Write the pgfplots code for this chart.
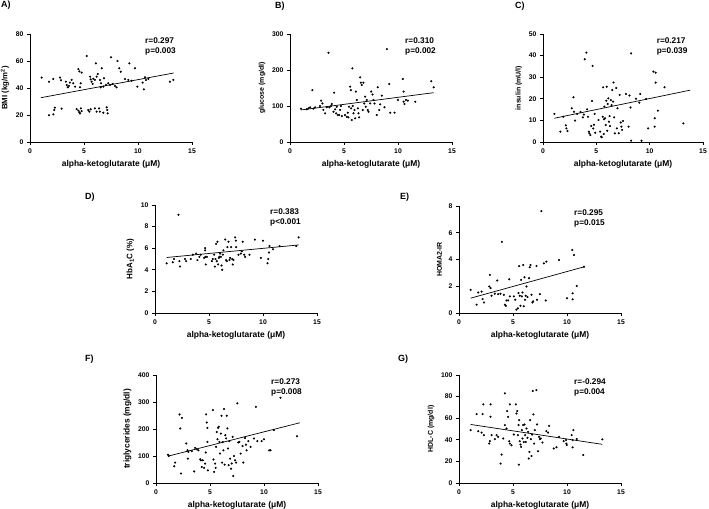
\documentclass[border=0pt]{standalone}
\usepackage{fontspec}
\setmainfont{Liberation Sans}
\usepackage{pgfplots}
\pgfplotsset{compat=1.18}

\pgfplotsset{
  panel/.style={
    scale only axis, width=162bp, height=108bp,
    xmin=0, xmax=15, ymin=0,
    xtick={0,5,10,15},
    axis x line*=bottom, axis y line*=left,
    axis line style={line width=0.9bp, -},
    tick align=outside, major tick length=3bp,
    tick style={line width=0.8bp, black},
    enlargelimits=false, clip=false,
    tick label style={font=\fontsize{6.8}{8}\selectfont\bfseries},
    /pgf/number format/assume math mode=true,
    xlabel={alpha-ketoglutarate (μM)},
    xlabel style={font=\fontsize{8.5}{10}\selectfont\bfseries},
    ylabel style={font=\fontsize{7}{8}\selectfont\bfseries},
    anchor=south west,
  },
  dots/.style={only marks, mark=*, mark size=0.85bp, black},
  fit/.style={no marks, line width=0.7bp, black},
}
\newcommand{\stats}[2]{%
  \node[anchor=west, inner sep=0, font=\fontsize{8.3}{10}\selectfont\bfseries] at (rel axis cs:0.71,0.935) {#1};
  \node[anchor=west, inner sep=0, font=\fontsize{8.3}{10}\selectfont\bfseries] at (rel axis cs:0.71,0.84) {#2};}

\begin{document}
\begin{tikzpicture}
\path[use as bounding box] (0,0) rectangle (709bp,509bp);

% panel letters
\begin{scope}[every node/.style={anchor=north west, inner sep=0, font=\fontsize{9}{10}\selectfont\bfseries}]
\node at (1bp,508bp) {A)};
\node at (275bp,507bp) {B)};
\node at (515bp,507bp) {C)};
\node at (85bp,316bp) {D)};
\node at (400bp,316bp) {E)};
\node at (85bp,154bp) {F)};
\node at (398bp,154bp) {G)};
\end{scope}

% A) BMI
\begin{axis}[panel, at={(30bp,367bp)}, ymax=80, ytick={0,20,40,60,80},
  ylabel={BMI (kg/m\textsuperscript{2})}, ylabel style={font=\fontsize{7.8}{8}\selectfont\bfseries}]
\addplot[dots] coordinates {
(1.08,47.7) (1.76,19.8) (1.76,44.7) (2.16,46.7) (2.16,20.5) (2.25,23.7) (2.3,25.4)
(2.78,47.7) (2.87,45.7) (2.93,24.7) (3.33,44.7) (3.4,42.2) (3.5,40.5) (3.6,41.5)
(3.7,44) (3.86,46) (4.0,43.5) (4.17,41) (4.48,54) (4.57,52.3) (4.69,43.5) (4.63,40.5)
(4.78,51.4) (4.32,24.4) (4.48,23.2) (4.57,22) (4.72,24.9) (4.78,22.9) (4.63,21.2)
(5.25,63.7) (5.4,23.7) (5.49,22.5) (5.62,24.2) (5.56,48.4) (5.62,46.4) (5.71,44.7)
(5.8,43) (5.86,46.9) (6.0,46) (6.1,58.3) (6.17,48.4) (6.27,50.4) (6.0,24.9) (6.17,22.5)
(6.39,24.9) (6.48,46) (6.54,40.5) (6.57,43.5) (6.64,54.6) (6.79,41) (6.85,47.2)
(6.79,21.7) (7.1,25.7) (7.16,23.7) (7.19,21.2) (7.04,42.2) (7.25,43.5) (7.4,42.2)
(7.5,62.7) (7.65,43) (7.87,41.5) (8.02,40.5) (8.1,60) (8.27,54.6) (8.4,52) (8.8,46.7)
(9.1,46) (9.2,58.3) (9.4,45.4) (9.72,54.6) (9.94,41) (10.43,44) (10.55,39) (10.65,47.9)
(10.74,46) (10.96,46.7) (12.96,44.7) (13.27,46) (6.48,22.5)
};
\addplot[fit] coordinates {(1.0,32.8) (13.3,51.1)};
\stats{r=0.297}{p=0.003}
\end{axis}

% B) glucose
\begin{axis}[panel, at={(290bp,367bp)}, ymax=300, ytick={0,100,200,300},
  ylabel={glucose (mg/dl)}]
\addplot[dots] coordinates {
(1.02,92.6) (1.55,90.7) (1.7,93.5) (1.86,96.3) (2.07,144) (2.17,92.6) (2.32,96.3)
(2.78,100) (2.88,114.8) (3.0,107) (3.09,89) (3.25,79.6) (3.4,96.3) (3.56,248)
(3.65,96.3) (3.8,100) (3.87,105.6) (4.02,84) (4.08,137) (4.18,90.7) (4.27,79.6)
(4.33,98) (4.42,75) (4.55,75) (4.64,89) (4.73,100) (4.8,72) (5.1,75) (5.26,70)
(5.35,81.5) (5.41,68.5) (5.47,98) (5.57,153.7) (5.63,144) (5.66,93.5) (5.72,61)
(5.78,204.6) (5.81,100) (5.88,79.6) (5.97,89) (6.03,65.7) (6.1,140) (6.19,116.7)
(6.28,93.5) (6.34,79.6) (6.4,68.5) (6.5,179.6) (6.56,164.8) (6.65,158.3) (6.74,89)
(6.8,164.8) (6.87,107) (6.96,126) (7.02,98) (7.11,116.7) (7.2,89) (7.27,84) (7.42,107)
(7.52,140) (7.64,132) (7.73,116.7) (7.82,107) (8.04,75) (8.13,152) (8.26,89)
(8.35,104.6) (8.5,128.7) (8.75,96.3) (8.97,258) (9.19,161) (9.28,81.5) (9.68,81.5)
(9.99,116.7) (10.45,175) (10.52,140) (10.52,112) (10.6,105.6) (10.73,116.7)
(10.92,114.8) (11.6,112) (13.08,169) (13.3,152)
};
\addplot[fit] coordinates {(1.02,89) (13.3,137)};
\stats{r=0.310}{p=0.002}
\end{axis}

% C) insulin
\begin{axis}[panel, at={(543bp,367bp)}, width=160bp, ymax=50, ytick={0,10,20,30,40,50},
  ylabel={insulin (mU/l)}]
\addplot[dots] coordinates {
(1.07,13) (1.62,4.8) (1.9,11.7) (2.14,7.7) (2.2,6.3) (2.3,5.1) (2.7,15.6) (2.85,20.7)
(2.9,14) (3.0,9.9) (3.2,13) (3.52,13.9) (3.73,11.4) (3.83,12.7) (3.92,38.3) (4.07,41.4)
(4.13,15.1) (4.22,11.7) (4.29,4.8) (4.35,4) (4.44,3.2) (4.53,7.4) (4.59,19) (4.65,35.2)
(4.71,6.3) (4.78,8) (4.84,13) (4.9,4.3) (5.2,10.2) (5.36,4.8) (5.45,2.5) (5.51,2.2)
(5.6,11.7) (5.63,25.3) (5.7,3.7) (5.72,10.5) (5.75,16.4) (5.82,11) (5.88,7.9) (5.94,19.1)
(5.97,25.6) (6.03,5.2) (6.06,17.6) (6.12,20.2) (6.18,9.4) (6.24,12) (6.27,7.4) (6.37,19.4)
(6.43,17.1) (6.49,24.1) (6.58,18.7) (6.61,27.5) (6.67,11.4) (6.73,4) (6.86,25) (6.92,6.3)
(6.98,15.6) (7.1,4) (7.19,21.8) (7.29,9) (7.35,7.1) (7.41,5.6) (7.5,9.7) (7.78,22.2)
(8.02,7.1) (8.11,21.5) (8.2,16) (8.26,41) (8.26,0.6) (8.72,20) (9.03,18.2) (9.12,22.2)
(9.24,0.6) (9.67,20) (9.86,6.3) (10.35,32.6) (10.47,11) (10.47,7.1) (10.56,32.1)
(10.56,27.5) (10.77,14.5) (11.39,25.3) (13.16,8.6)
};
\addplot[fit] coordinates {(1.07,11.0) (13.8,24.0)};
\stats{r=0.217}{p=0.039}
\end{axis}

% D) HbA1C
\begin{axis}[panel, at={(155bp,196bp)}, ymax=10, ytick={0,2,4,6,8,10},
  ylabel={HbA\textsubscript{1}C (\%)}, ylabel style={font=\fontsize{8}{8}\selectfont\bfseries}]
\addplot[dots] coordinates {
(1.08,4.6) (1.64,4.7) (1.76,5.0) (2.17,9.1) (2.26,4.8) (2.32,4.3) (2.78,5.0) (2.88,4.8)
(3.31,5.0) (3.5,5.4) (3.8,5.5) (3.93,4.9) (4.11,5.2) (4.24,5.4) (4.55,5.1) (4.64,5.8)
(4.64,6.0) (4.67,5.2) (4.7,4.5) (4.8,5.2) (5.26,4.8) (5.35,5.0) (5.48,5.4) (5.54,4.3)
(5.6,5.0) (5.66,6.4) (5.72,4.8) (5.78,6.6) (5.84,4.5) (5.91,5.1) (5.97,5.2) (6.03,5.5)
(6.1,5.2) (6.16,4.4) (6.22,4.0) (6.28,5.4) (6.34,5.8) (6.5,6.8) (6.59,4.9) (6.65,4.8)
(6.71,6.1) (6.8,6.6) (6.9,4.9) (6.96,5.1) (7.05,6.1) (7.15,5.0) (7.2,4.5) (7.27,4.9)
(7.42,7.0) (7.49,6.7) (7.52,6.1) (7.73,5.4) (7.95,5.5) (8.04,5.7) (8.13,6.6) (8.26,5.4)
(8.35,5.2) (8.75,5.4) (9.25,6.8) (9.8,5.1) (10.0,6.7) (10.42,4.6) (10.48,5.0) (10.55,5.6)
(10.6,6.2) (10.92,5.9) (11.54,6.2) (13.08,6.2) (13.3,7.0)
};
\addplot[fit] coordinates {(1.08,5.14) (13.3,6.3)};
\stats{r=0.383}{p<0.001}
\end{axis}

% E) HOMA2-IR
\begin{axis}[panel, at={(459bp,196bp)}, height=107bp, ymax=8, ytick={0,2,4,6,8},
  ylabel={HOMA2-IR}]
\addplot[dots] coordinates {
(1.08,1.73) (1.63,0.62) (1.78,1.53) (2.09,1.6) (2.18,1.04) (2.31,0.79) (2.8,1.98)
(2.86,2.85) (2.92,1.86) (3.02,1.29) (3.32,1.44) (3.54,2.43) (3.63,1.41) (3.85,1.44)
(3.97,5.32) (4.15,1.36) (4.25,0.62) (4.34,0.54) (4.4,0.94) (4.55,0.94) (4.65,2.52)
(4.71,1.24) (5.08,1.24) (5.2,0.99) (5.32,0.25) (5.45,0.35) (5.51,1.49) (5.57,3.51)
(5.63,1.29) (5.69,0.54) (5.75,2.48) (5.82,1.24) (5.88,1.53) (5.94,3.59) (6.0,0.5)
(6.06,2.67) (6.12,0.99) (6.18,1.29) (6.25,1.98) (6.34,1.19) (6.49,2.6) (6.55,3.42)
(6.62,3.59) (6.71,1.36) (6.8,0.79) (6.86,0.87) (7.17,3.51) (7.23,0.99) (7.48,1.41)
(7.63,7.62) (7.85,3.71) (8.03,0.94) (8.09,3.84) (9.26,3.96) (10.0,1.1) (10.49,4.71)
(10.65,4.34) (10.9,2.02) (10.52,1.47) (10.52,1.02) (11.57,3.46)
};
\addplot[fit] coordinates {(1.08,1.11) (11.57,3.45)};
\stats{r=0.295}{p=0.015}
\end{axis}

% F) triglycerides
\begin{axis}[panel, at={(156bp,26bp)}, ymax=400, ytick={0,100,200,300,400},
  ylabel={triglycerides (mg/dl)}, ylabel style={font=\fontsize{8.4}{9}\selectfont\bfseries}]
\addplot[dots] coordinates {
(1.11,105) (1.17,100) (1.69,62) (1.78,75.5) (2.18,254) (2.24,202) (2.4,241) (2.31,35)
(2.8,146) (2.92,121) (2.95,90) (3.0,115) (3.32,118) (3.54,43) (3.63,130) (3.78,125)
(3.93,121) (4.09,88) (4.15,84) (4.24,59) (4.33,84) (4.46,56) (4.55,72) (4.61,113)
(4.64,254) (4.7,224) (4.76,204) (4.76,152) (4.8,47) (5.26,270) (5.32,87) (5.38,41)
(5.47,72) (5.53,56) (5.56,134) (5.63,189) (5.69,162) (5.75,204) (5.81,208) (5.87,152)
(5.93,109) (6.0,183) (6.06,249) (6.12,75.5) (6.18,152) (6.24,121) (6.3,274) (6.36,68)
(6.42,177) (6.49,165) (6.55,249) (6.61,202) (6.67,128) (6.73,66) (6.79,155) (6.86,90)
(6.95,53) (7.01,72) (7.1,171) (7.16,26) (7.22,100) (7.32,84) (7.41,75.5) (7.53,295)
(7.62,150) (7.72,152) (7.84,109) (8.02,137) (8.08,75.5) (8.24,167) (8.33,142) (8.39,121)
(8.55,155) (8.76,134) (9.07,165) (9.25,282) (9.38,155) (9.78,155) (9.99,162) (10.48,121)
(10.6,121) (10.91,196) (11.53,316) (13.06,173)
};
\addplot[fit] coordinates {(1.17,100) (13.31,223)};
\stats{r=0.273}{p=0.008}
\end{axis}

% G) HDL-C
\begin{axis}[panel, at={(459bp,26bp)}, ymax=100, ytick={0,20,40,60,80,100},
  ylabel={HDL-C (mg/dl)}]
\addplot[dots] coordinates {
(1.08,48.9) (1.63,63.8) (1.78,48) (2.09,46.7) (2.18,63.8) (2.25,72.8) (2.31,44.3)
(2.8,36.5) (2.86,38.7) (2.92,72.8) (2.92,61.3) (3.02,44.3) (3.32,40.6) (3.48,44.3)
(3.63,42.7) (3.85,18) (3.94,26.3) (4.09,41.2) (4.25,83) (4.25,53.6) (4.4,50.5)
(4.46,66.6) (4.55,61.3) (4.65,38.7) (4.71,72.8) (4.71,36.5) (4.86,35) (5.08,44.9)
(5.26,72.8) (5.32,64.4) (5.39,66.6) (5.45,44.3) (5.51,53.6) (5.54,17) (5.57,58.2)
(5.63,38.7) (5.69,35.6) (5.75,33.4) (5.82,48.9) (5.88,41.2) (5.94,53.6) (6.0,38)
(6.06,54.2) (6.12,44.3) (6.18,38) (6.25,50.5) (6.34,41.8) (6.4,47.4) (6.46,22.6)
(6.52,28.8) (6.58,58.2) (6.65,40.6) (6.71,25) (6.77,44.9) (6.83,85.1) (6.89,63.5)
(6.95,36.5) (7.02,48.9) (7.17,86) (7.23,54.2) (7.32,29.4) (7.42,42.7) (7.48,40.6)
(7.57,41.2) (7.72,37.5) (8.09,48) (8.25,46.7) (8.34,52.9) (8.77,31.9) (9.02,33.1)
(9.26,42.7) (9.69,38.7) (9.94,36.5) (10.59,49) (10.43,44.4) (9.9,39.8) (9.97,35.2)
(10.52,39.8) (10.9,40.7) (10.52,33) (11.51,25.9) (13.27,40.4)
};
\addplot[fit] coordinates {(1.08,54.2) (13.27,35.8)};
\stats{r=-0.294}{p=0.004}
\end{axis}
\end{tikzpicture}
\end{document}
